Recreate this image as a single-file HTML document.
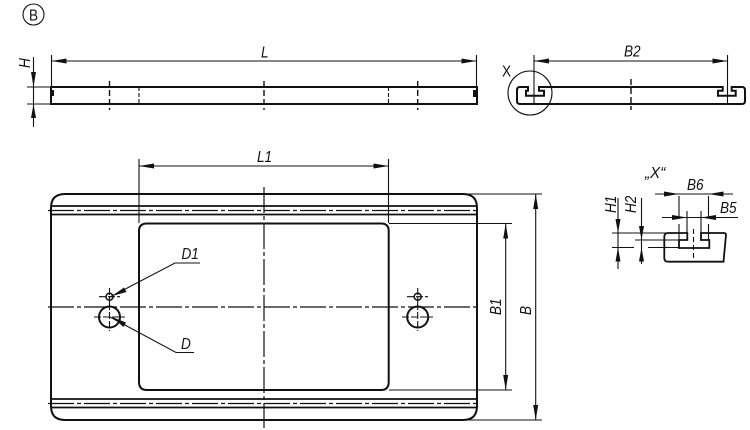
<!DOCTYPE html>
<html><head><meta charset="utf-8"><style>
html,body{margin:0;padding:0;background:#fff}
svg{display:block}
text{font-family:"Liberation Sans",sans-serif;font-style:italic;font-size:16px;fill:#111}
.k{fill:none;stroke:#111;stroke-width:2}
.t{fill:none;stroke:#111;stroke-width:1.1}
.c{fill:none;stroke:#111;stroke-width:1.2;stroke-dasharray:26 3 4 3}
.d{fill:none;stroke:#111;stroke-width:1.4;stroke-dasharray:6 3}
.a{fill:#111;stroke:none}
</style></head><body>
<svg width="750" height="430" viewBox="0 0 750 430" xmlns="http://www.w3.org/2000/svg">
<!-- B marker -->
<circle cx="33.500" cy="14.500" r="10.500" class="t"/>
<text transform="translate(29,20.500) scale(.85,1)" style="font-style:normal">B</text>

<!-- Side view -->
<path class="k" d="M51 87H477V104H51Z"/>
<path class="a" d="M51 90h3v6h-3zM473 90h4v7h-4z"/>
<path class="t" d="M51.500 55V87M476.500 55V87M51 61H476"/>
<path class="a" d="M51.500 61l15-2.500v5zM476.500 61l-15-2.500v5z"/>
<text transform="translate(261,57.500) scale(.85,1)">L</text>
<path class="t" d="M27 87H51M27 104H51M33.500 57V127"/>
<path class="a" d="M33.500 87l-2.500-15h5zM33.500 104l-2.500 14h5z"/>
<text transform="translate(30,68) rotate(-90) scale(.85,1)">H</text>
<path class="d" d="M109.500 81V110M264 81V110M417.700 81V110"/>
<path class="t" stroke-dasharray="4 2" d="M139 87V104M388.500 87V104"/>

<!-- End view -->
<path class="k" d="M528 87H520Q517 87 517 90V101Q517 104 520 104H742Q745 104 745 101V90Q745 87 742 87H731.700V90.700H735.700V95.700H718V90.700H722.700V87H539V90.700H544V95.700H526V90.700H528Z"/>
<path class="t" d="M534 55V104M727.500 55V104M534 61H727.500"/>
<path class="a" d="M534 61l15-2.500v5zM727.500 61l-15-2.500v5z"/>
<text transform="translate(624,56.500) scale(.85,1)">B2</text>
<circle class="t" cx="530" cy="93" r="22"/>
<text transform="translate(502,76.500) scale(.85,1)" style="font-style:normal">X</text>
<path class="d" d="M631 79V110"/>

<!-- Plate -->
<path class="k" d="M65 194H463Q477 194 477 208V406Q477 420 463 420H65Q51 420 51 406V208Q51 194 65 194Z"/>
<path class="k" d="M51 206H477M51 214.500H477M51 399H477M51 407.500H477" style="stroke-width:1.700"/>
<path class="c" d="M48 210.500H480M48 403.500H480M48 307H480"/>
<path class="k" d="M147 223.500H381Q388.700 223.500 388.700 231V382Q388.700 390 381 390H147Q139 390 139 382V231Q139 223.500 147 223.500Z"/>
<path class="c" d="M264 187V428"/>
<path class="t" d="M139 159V223M388.500 159V223M139 166H388.500"/>
<path class="a" d="M139 166l15-2.500v5zM388.500 166l-15-2.500v5z"/>
<text transform="translate(257,162) scale(.85,1)">L1</text>

<!-- Holes -->
<g>
<circle class="k" cx="109.500" cy="296.700" r="3.500" style="stroke-width:1.500"/>
<circle class="k" cx="109.500" cy="317" r="10.500"/>
<path class="t" stroke-dasharray="7 2" d="M109.500 288V306M99 296.700H120M109.500 303V331M94 317H125"/>
<circle class="k" cx="417.700" cy="296.700" r="3.500" style="stroke-width:1.500"/>
<circle class="k" cx="417.700" cy="317" r="10.500"/>
<path class="t" stroke-dasharray="7 2" d="M417.700 288V306M407 296.700H428M417.700 303V331M402 317H433"/>
</g>

<!-- Leaders -->
<path class="t" d="M110 297L175 263H200"/>
<path class="a" d="M112 296l12-8.500 2.500 4.500z"/>
<text transform="translate(181.500,259) scale(.85,1)">D1</text>
<path class="t" d="M110 317L176 352.500H194"/>
<path class="a" d="M112 317l14 5.500-2.500 4.500z"/>
<text transform="translate(181,349) scale(.85,1)">D</text>

<!-- B1 / B -->
<path class="t" d="M389 223.500H512M389 390H512M505.700 223.500V390"/>
<path class="a" d="M505.700 223.500l-2.500 15h5zM505.700 390l-2.500-15h5z"/>
<text transform="translate(501,315) rotate(-90) scale(.85,1)">B1</text>
<path class="t" d="M463 194H542M463 420H542M535.700 194V420"/>
<path class="a" d="M535.700 194l-2.500 15h5zM535.700 420l-2.500-15h5z"/>
<text transform="translate(531,315) rotate(-90) scale(.85,1)">B</text>

<!-- Detail X -->
<text transform="translate(645,178) scale(.95,1)">„X“</text>
<path class="k" d="M687.300 233H668Q664.300 233 664.300 237V258Q664.300 261.700 668 261.700H723.500L726 235Q726 233 724 233H701V240H709.300V248H679V240H687.300Z" style="stroke-width:1.800"/>
<path class="t" d="M679 196V218M679 224V240M708.500 196V218M708.500 224V240M687 211V233M701 211V233"/>
<path class="t" d="M655 194H733M662 217.500H738"/>
<path class="a" d="M679 194l-15-2.500v5zM708.500 194l15-2.500v5zM687 217.500l-15-2.500v5zM701 217.500l15-2.500v5z"/>
<text transform="translate(687,190) scale(.85,1)">B6</text>
<text transform="translate(720,213) scale(.85,1)">B5</text>
<path class="t" d="M612 233H678M635 240H679M612 247.500H634M648 247.500H679"/>
<path class="t" d="M618 198V269M641.500 198V264"/>
<path class="a" d="M618 233l-2.500-14h5zM618 247.500l-2.500 14h5zM641.500 240l-2.500-14h5zM641.500 247.500l-2.500 14h5z"/>
<text transform="translate(616,213) rotate(-90) scale(.85,1)">H1</text>
<text transform="translate(636,213) rotate(-90) scale(.85,1)">H2</text>
<path class="t" stroke-dasharray="5 3" d="M693.500 229V260"/>
</svg>
</body></html>
